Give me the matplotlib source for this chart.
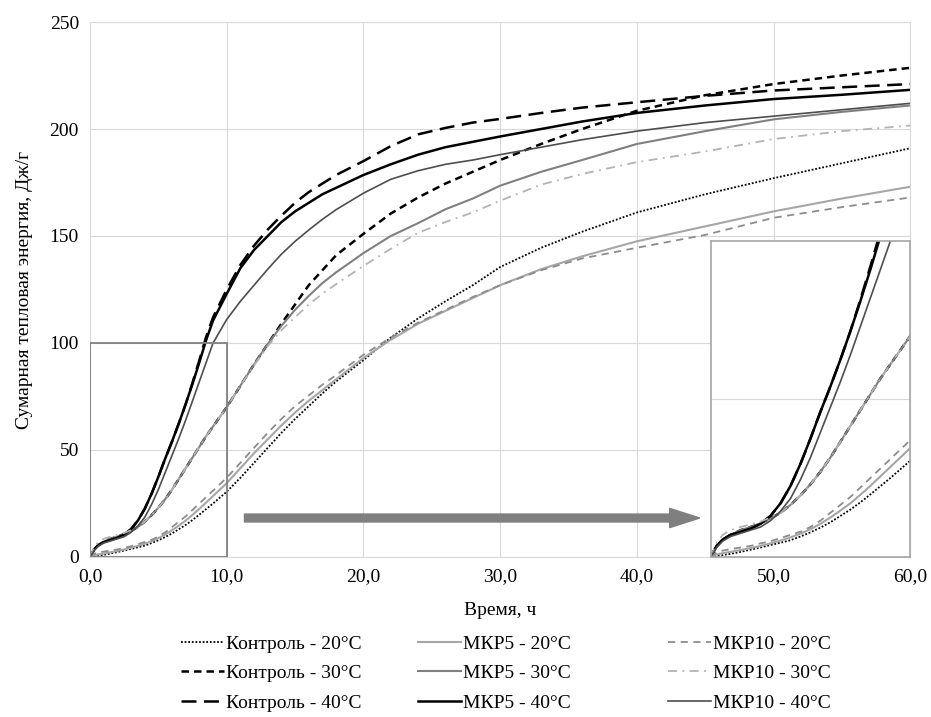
import matplotlib.pyplot as plt
from matplotlib.patches import Rectangle
from matplotlib.ticker import FuncFormatter

plt.rcParams['font.family'] = ['Liberation Serif', 'DejaVu Serif']
plt.rcParams['font.size'] = 14

# время, ч
t = [0, 0.3, 0.6, 1, 1.5, 2, 2.5, 3, 3.5, 4, 4.5, 5, 5.5, 6, 6.5, 7, 7.5, 8, 8.5, 9,
     10, 11, 12, 13, 14, 15, 16, 17, 18, 20, 22, 24, 26, 28, 30, 33, 36, 40, 45, 50, 55, 60]

# суммарная тепловая энергия, Дж/г
kontrol_20 = [0, 0.3, 0.6, 1.0, 1.6, 2.3, 3.0, 3.8, 4.5, 5.3, 6.5, 7.8, 9.3, 11.0, 13.0, 15.0, 17.3, 19.8, 22.4, 25.0,
              30.5, 37.0, 44.0, 51.0, 58.0, 64.5, 70.5, 76.5, 82.0, 92.0, 102.5, 111.5, 119.5, 127.0, 135.5, 144.5, 152.0, 161.0, 169.5, 177.0, 184.0, 191.0]
mkr5_20 = [0, 0.8, 1.2, 1.6, 2.2, 2.8, 3.5, 4.3, 5.2, 6.2, 7.4, 8.8, 10.5, 12.5, 14.7, 17.0, 19.7, 22.5, 25.5, 28.5,
           34.5, 41.5, 48.5, 55.0, 61.5, 67.5, 73.0, 78.0, 83.0, 93.0, 101.5, 109.0, 115.0, 121.0, 127.0, 134.5, 140.5, 147.5, 154.5, 161.5, 167.5, 173.0]
mkr10_20 = [0, 1.5, 2.0, 2.5, 3.0, 3.5, 4.3, 5.0, 6.0, 7.0, 8.0, 9.5, 11.5, 14.0, 16.5, 19.0, 22.0, 25.0, 28.0, 31.0,
            37.0, 44.0, 51.0, 58.0, 64.5, 70.5, 75.5, 80.5, 85.0, 94.5, 102.5, 109.5, 115.5, 121.5, 127.0, 134.0, 139.5, 144.5, 150.5, 158.5, 163.5, 168.0]

kontrol_30 = [0, 3.5, 5.5, 7.0, 8.5, 9.5, 10.7, 12.2, 14.0, 16.5, 19.5, 23.0, 27.0, 31.5, 36.5, 41.5, 46.5, 51.5, 56.5, 61.0,
              70.0, 80.0, 90.0, 99.5, 109.0, 118.0, 127.0, 134.0, 141.0, 151.0, 160.5, 168.0, 174.5, 180.0, 185.5, 193.0, 200.0, 208.5, 215.8, 221.0, 225.0, 228.6]
mkr5_30 = [0, 3.5, 5.5, 7.0, 8.5, 9.5, 10.7, 12.2, 14.0, 16.5, 19.5, 23.0, 27.0, 31.5, 36.5, 41.5, 46.5, 51.5, 56.5, 61.0,
           70.0, 80.0, 90.0, 99.5, 108.0, 115.5, 122.0, 128.0, 133.0, 142.0, 150.0, 156.0, 162.5, 167.5, 173.5, 180.0, 185.5, 193.0, 199.0, 204.5, 208.0, 211.0]
mkr10_30 = [0, 4.5, 7.0, 8.5, 9.5, 10.3, 11.2, 12.5, 14.0, 16.5, 19.5, 23.0, 27.0, 31.5, 36.5, 41.5, 46.5, 51.5, 56.5, 61.0,
            70.0, 80.0, 89.5, 98.5, 106.0, 112.0, 118.0, 123.0, 127.5, 136.0, 144.0, 151.5, 156.5, 161.0, 166.5, 174.0, 179.0, 184.5, 189.5, 195.3, 199.0, 201.6]

kontrol_40 = [0, 3.5, 5.5, 7.0, 8.0, 9.0, 10.5, 13.0, 17.0, 22.5, 29.5, 37.5, 46.0, 54.0, 62.5, 71.5, 81.5, 92.0, 103.0, 112.0,
              125.0, 136.5, 145.5, 153.0, 159.5, 165.5, 170.5, 174.5, 178.5, 185.0, 192.0, 197.5, 200.5, 203.0, 204.7, 207.5, 210.0, 212.5, 215.5, 218.0, 219.5, 221.0]
mkr5_40 = [0, 3.5, 5.5, 7.0, 8.0, 9.0, 10.5, 13.0, 17.0, 22.5, 29.5, 37.5, 46.0, 54.0, 62.5, 71.5, 81.0, 91.0, 101.5, 110.5,
           123.0, 135.0, 143.5, 150.0, 156.5, 161.5, 165.5, 169.5, 172.5, 178.5, 183.5, 188.0, 191.5, 194.0, 196.5, 200.0, 203.5, 207.5, 211.0, 214.0, 216.0, 218.3]
mkr10_40 = [0, 3.0, 5.0, 6.5, 7.5, 8.5, 9.5, 11.5, 14.5, 18.5, 24.5, 31.5, 39.5, 47.5, 55.5, 64.0, 73.0, 82.0, 91.0, 100.0,
            111.0, 119.5, 127.0, 134.5, 141.5, 147.5, 152.8, 157.8, 162.3, 170.0, 176.5, 180.5, 183.5, 185.5, 188.0, 191.5, 195.0, 199.0, 203.0, 206.0, 209.0, 212.0]

series = [
    ('Контроль - 20°C', kontrol_20, dict(color='black', lw=1.3, ls=(0, (1, 1)))),
    ('Контроль - 30°C', kontrol_30, dict(color='black', lw=1.8, ls=(0, (3, 2)))),
    ('Контроль - 40°C', kontrol_40, dict(color='black', lw=1.8, ls=(0, (6, 3)))),
    ('МКР5 - 20°C', mkr5_20, dict(color='#a6a6a6', lw=1.5, ls='-')),
    ('МКР5 - 30°C', mkr5_30, dict(color='#808080', lw=1.5, ls='-')),
    ('МКР5 - 40°C', mkr5_40, dict(color='black', lw=1.8, ls='-')),
    ('МКР10 - 20°C', mkr10_20, dict(color='#8c8c8c', lw=1.3, ls=(0, (4, 3)))),
    ('МКР10 - 30°C', mkr10_30, dict(color='#b3b3b3', lw=1.3, ls=(0, (5, 3, 1, 3)))),
    ('МКР10 - 40°C', mkr10_40, dict(color='#4d4d4d', lw=1.2, ls='-')),
]

fig = plt.figure(figsize=(9.31, 7.17), dpi=100)
ax = fig.add_axes([0.0967, 0.2232, 0.881, 0.7461])

ins = ax.inset_axes([45.4, 0, 14.6, 147.5], transform=ax.transData)

handles = []
for label, y, st in series:
    ln, = ax.plot(t, y, label=label, **st)
    ins.plot(t, y, **st)
    handles.append(ln)

ax.set_xlim(0, 60)
ax.set_ylim(0, 250)
ax.set_xticks(range(0, 61, 10))
ax.set_yticks(range(0, 251, 50))
ax.xaxis.set_major_formatter(FuncFormatter(lambda v, p: f'{v:.1f}'.replace('.', ',')))
ax.tick_params(length=0, pad=8, labelsize=14)
ax.grid(True, color='#d9d9d9', lw=0.8)
ax.set_axisbelow(True)
for s in ax.spines.values():
    s.set_color('#d9d9d9')

ax.set_xlabel('Время, ч', fontsize=14, labelpad=12)
ax.set_ylabel('Сумарная тепловая энергия, Дж/г', fontsize=14, labelpad=12)

# область увеличения
ax.add_patch(Rectangle((0, 0), 10, 100, fill=False, edgecolor='#808080', lw=1.3, zorder=4))
ax.arrow(11.3, 18.2, 31.1, 0, width=3.7, head_width=9.0, head_length=2.2,
         length_includes_head=False, color='#7f7f7f', zorder=4)

ins.set_xlim(0, 10)
ins.set_ylim(0, 100)
ins.set_xticks([])
ins.set_yticks([50])
ins.set_yticklabels([])
ins.tick_params(length=0)
ins.grid(True, axis='y', color='#d9d9d9', lw=0.8)
for s in ins.spines.values():
    s.set_color('#a6a6a6')
    s.set_linewidth(1.2)

for i, x0 in enumerate([0.1845, 0.4385, 0.7075]):
    leg = fig.legend(handles=handles[3 * i:3 * i + 3], loc='upper left',
                     bbox_to_anchor=(x0, 0.128), frameon=False, borderpad=0,
                     handlelength=2.2, handletextpad=0.1, labelspacing=0.62, fontsize=14)

fig.savefig('out.png', dpi=100)
